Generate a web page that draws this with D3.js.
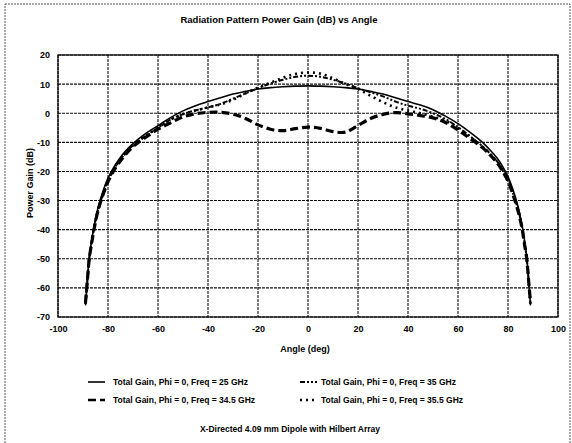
<!DOCTYPE html>
<html>
<head>
<meta charset="utf-8">
<script src="https://cdn.jsdelivr.net/npm/d3@7"></script>
<style>
  body { margin: 0; background: #fff; }
  text { font-family: "Liberation Sans", Arial, sans-serif; font-weight: bold; fill: #000; }
</style>
</head>
<body>
<div id="chart"></div>
<script>
const angles = [-89, -88.3, -87.5, -86.5, -85.5, -84, -82, -80, -78, -76, -73, -70, -65, -60, -55, -50, -45, -40, -35, -30, -25, -20, -15, -10, -5,
  0,
  5, 10, 15, 20, 25, 30, 35, 40, 45, 50, 55, 60, 65, 70, 73, 76, 78, 80, 82, 84, 85.5, 86.5, 87.5, 88.3, 89]

const gain25 = [-66, -58, -49.5, -43.5, -38.5, -32.5, -26.8, -22.3, -19, -16.3, -13, -10.4, -7, -4.3, -1.5, 0.8, 2.6, 4, 5.3, 6.6, 7.5, 8.3, 8.8, 9.1, 9.3,
  9.4,
  9.3, 9.1, 8.8, 8.3, 7.5, 6.6, 5.3, 4, 2.8, 1.2, -1, -3.6, -6.7, -10.2, -12.8, -15.8, -18.5, -21.8, -26.3, -32, -38, -43, -49.5, -58, -66]

const gain345 = [-65, -58, -50, -44.5, -39.5, -33.5, -28, -23.5, -20.2, -17.5, -14.2, -11.5, -8.3, -5.5, -3.3, -1.3, -0.2, 0.3, 0.3, -0.3, -1.8, -4, -5.5, -6, -5.3,
  -4.8,
  -5.2, -6.3, -6.5, -4.2, -1.8, -0.4, 0.2, -0.2, -0.8, -1.6, -3.2, -5.8, -8.8, -12, -14.5, -17.5, -20.2, -23.3, -28, -33.5, -39, -44.5, -50, -58, -65]

const gain35 = [-65.5, -58, -50, -44, -39, -33.3, -27.8, -23, -19.8, -17, -13.7, -11, -7.8, -5, -2.2, -0.3, 1, 2, 3.2, 5, 6.8, 8.6, 10.2, 11.5, 12.5,
  12.9,
  12.5, 11.5, 10.2, 8.6, 7.2, 5.8, 4, 2.6, 1.5, 0, -2, -4.8, -8, -11.5, -14, -17, -19.7, -22.8, -27.5, -33, -38.5, -44, -50, -58, -65.5]

const gain355 = [-65.5, -58, -50, -44, -39, -33.3, -27.8, -23, -19.8, -17, -13.7, -11, -7.8, -5, -2.2, -0.3, 0.9, 2, 3, 4.6, 6.8, 8.8, 10.5, 12.2, 13.5,
  14,
  13.6, 12, 10, 8.3, 6, 3.8, 2, 0.9, 0, -1.2, -2.6, -5, -8.2, -11.7, -14.2, -17.2, -19.9, -23, -27.5, -33, -38.5, -44, -50, -58, -65.5]

const xTicks = [-100, -80, -60, -40, -20, 0, 20, 40, 60, 80, 100]
const yTicks = [20, 10, 0, -10, -20, -30, -40, -50, -60, -70]

const series = [
  { name: "Total Gain, Phi = 0, Freq = 25 GHz", values: gain25, dash: null, width: 1.6 },
  { name: "Total Gain, Phi = 0, Freq = 35 GHz", values: gain35, dash: "5,2,2,2,2,2", width: 2 },
  { name: "Total Gain, Phi = 0, Freq = 34.5 GHz", values: gain345, dash: "8,4", width: 3.2 },
  { name: "Total Gain, Phi = 0, Freq = 35.5 GHz", values: gain355, dash: "2,4", width: 2.6 }
]

const W = 572, H = 443
const margin = { top: 55, right: 14, bottom: 126, left: 58 }
const width = W - margin.left - margin.right
const height = H - margin.top - margin.bottom

const svg = d3.select("#chart").append("svg")
  .attr("width", W)
  .attr("height", H)

// scanned page border
svg.append("rect")
  .attr("x", 5).attr("y", 4)
  .attr("width", 565).attr("height", 460)
  .style("fill", "none")
  .style("stroke", "#555")
  .style("stroke-width", 1)
  .style("stroke-dasharray", "2,1")

const x = d3.scaleLinear().domain([-100, 100]).range([0, width])
const y = d3.scaleLinear().domain([-70, 20]).range([height, 0])

const g = svg.append("g")
  .attr("transform", "translate(" + margin.left + "," + margin.top + ")")

// grid
g.append("g").selectAll("line").data(xTicks).join("line")
  .attr("x1", d => x(d)).attr("x2", d => x(d))
  .attr("y1", 0).attr("y2", height)
  .style("stroke", "#111").style("stroke-width", 1.1)
  .style("stroke-dasharray", "3,1")

g.append("g").selectAll("line").data(yTicks).join("line")
  .attr("x1", 0).attr("x2", width)
  .attr("y1", d => y(d)).attr("y2", d => y(d))
  .style("stroke", "#111").style("stroke-width", 1.1)
  .style("stroke-dasharray", "3,1")

g.append("rect")
  .attr("width", width).attr("height", height)
  .style("fill", "none").style("stroke", "#000").style("stroke-width", 1.2)

// axes, plain hyphen for negatives like the original
const fmt = d => String(d)

const xAxis = g.append("g")
  .attr("transform", "translate(0," + height + ")")
  .call(d3.axisBottom(x).tickValues(xTicks).tickFormat(fmt).tickSize(0).tickPadding(9))
xAxis.select(".domain").remove()
xAxis.selectAll("text").style("font-size", "9px")

const yAxis = g.append("g")
  .call(d3.axisLeft(y).tickValues(yTicks).tickFormat(fmt).tickSize(0).tickPadding(8))
yAxis.select(".domain").remove()
yAxis.selectAll("text").style("font-size", "9px")

// curves
const line = d3.line()
  .x(d => x(d[0]))
  .y(d => y(d[1]))
  .curve(d3.curveCatmullRom.alpha(0.5))

series.forEach(s => {
  const path = g.append("path")
    .datum(angles.map((a, i) => [a, s.values[i]]))
    .attr("d", line)
    .style("fill", "none")
    .style("stroke", "#000")
    .style("stroke-width", s.width)
  if (s.dash) path.style("stroke-dasharray", s.dash)
})

// titles
svg.append("text")
  .attr("x", 279).attr("y", 23)
  .attr("text-anchor", "middle")
  .style("font-size", "9.5px")
  .text("Radiation Pattern Power Gain (dB) vs Angle")

svg.append("text")
  .attr("x", 305).attr("y", 352)
  .attr("text-anchor", "middle")
  .style("font-size", "9px")
  .text("Angle (deg)")

svg.append("text")
  .attr("transform", "translate(33,183) rotate(-90)")
  .attr("text-anchor", "middle")
  .style("font-size", "9px")
  .text("Power Gain (dB)")

// legend
const legendPos = [[88, 385], [300, 385], [88, 403], [300, 403]]
series.forEach((s, i) => {
  const lg = svg.append("g")
    .attr("transform", "translate(" + legendPos[i][0] + "," + legendPos[i][1] + ")")
  const l = lg.append("line")
    .attr("x1", 0).attr("x2", 17)
    .attr("y1", -3).attr("y2", -3)
    .style("stroke", "#000")
    .style("stroke-width", Math.min(s.width, 2.4))
  if (s.dash) l.style("stroke-dasharray", s.dash)
  lg.append("text")
    .attr("x", i % 2 === 0 ? 25 : 21).attr("y", 0)
    .style("font-size", "8.5px")
    .text(s.name)
})

svg.append("text")
  .attr("x", 290).attr("y", 432)
  .attr("text-anchor", "middle")
  .style("font-size", "8.5px")
  .text("X-Directed 4.09 mm Dipole with Hilbert Array")
</script>
</body>
</html>
